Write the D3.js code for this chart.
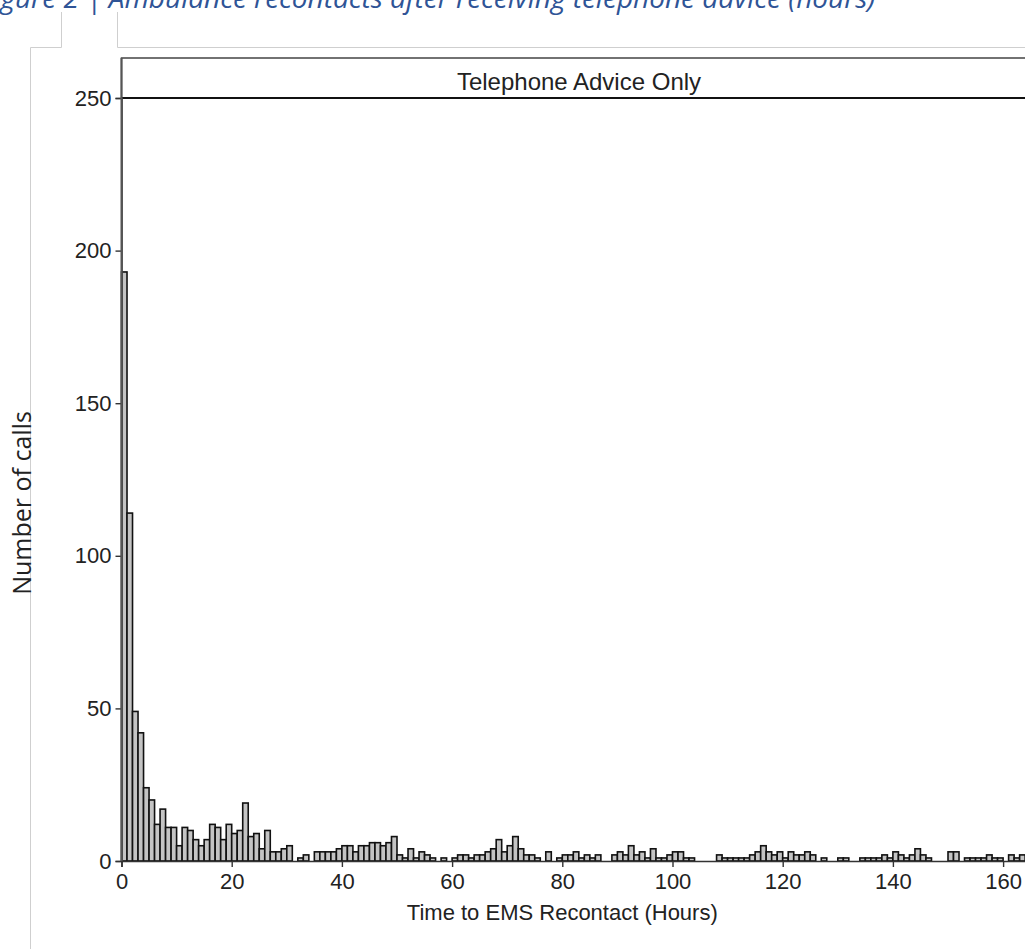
<!DOCTYPE html>
<html>
<head>
<meta charset="utf-8">
<script src="https://cdn.jsdelivr.net/npm/d3@7"></script>
<style>
  body { margin: 0; background: #fff; }
  svg { display: block; }
  .axis text { font-family: "Liberation Sans", Arial, sans-serif; font-size: 22px; fill: #222; }
  .axis path { stroke: #333; stroke-width: 1.6px; }
  .axis line { stroke: #333; stroke-width: 1.4px; }
</style>
</head>
<body>
<svg id="chart" width="1025" height="949"></svg>
<script>
const caption = 'Figure 2 | Ambulance recontacts after receiving telephone advice (hours)';
const facet = 'Telephone Advice Only';
const xTitle = 'Time to EMS Recontact (Hours)';
const yTitle = 'Number of calls';

// one-hour bins starting at 0
const counts = [
  193, 114, 49, 42, 24, 20, 12, 17, 11, 11,
  5, 11, 10, 7, 5, 7, 12, 11, 7, 12,
  9, 10, 19, 8, 9, 4, 10, 3, 3, 4,
  5, 0, 1, 2, 0, 3, 3, 3, 3, 4,
  5, 5, 3, 5, 5, 6, 6, 5, 6, 8,
  2, 1, 4, 1, 3, 2, 1, 0, 1, 0,
  1, 2, 2, 1, 2, 2, 3, 4, 7, 3,
  5, 8, 4, 2, 2, 1, 0, 3, 0, 1,
  2, 2, 3, 1, 2, 1, 2, 0, 0, 2,
  3, 2, 5, 2, 3, 1, 4, 1, 1, 2,
  3, 3, 1, 1, 0, 0, 0, 0, 2, 1,
  1, 1, 1, 1, 2, 3, 5, 3, 2, 3,
  1, 3, 2, 2, 3, 2, 0, 1, 0, 0,
  1, 1, 0, 0, 1, 1, 1, 1, 2, 1,
  3, 2, 1, 2, 4, 2, 1, 0, 0, 0,
  3, 3, 0, 1, 1, 1, 1, 2, 1, 1,
  0, 2, 1, 2, 0, 1, 3, 2
];
const xTicks = [0, 20, 40, 60, 80, 100, 120, 140, 160];
const yTicks = [0, 50, 100, 150, 200, 250];

const bins = counts.map((n, i) => ({ x0: i, x1: i + 1, n }));

const svg = d3.select('#chart');

// leftover document table borders and caption
const doc = svg.append('g').attr('stroke', '#cfcfcf').attr('stroke-width', 1).attr('fill', 'none');
doc.append('path').attr('d', 'M61.5,12V47.5H30.5V949');
doc.append('path').attr('d', 'M117.5,12V47.5H1025');
svg.append('text')
  .attr('x', -20).attr('y', 8)
  .style('font', 'italic 28px "Open Sans", sans-serif')
  .attr('fill', '#2f5496')
  .text(caption);

const x = d3.scaleLinear().domain([0, 170]).range([121.5, 121.5 + 170 * 5.51]);
const y = d3.scaleLinear().domain([0, 250]).range([861, 98]);

// facet strip
svg.append('rect')
  .attr('x', x(0)).attr('y', 58)
  .attr('width', 960).attr('height', y(250) - 58)
  .attr('fill', '#fff').attr('stroke', '#444').attr('stroke-width', 1.5);
svg.append('text')
  .attr('x', 579).attr('y', 90)
  .attr('text-anchor', 'middle')
  .style('font', '24px "Liberation Sans", Arial, sans-serif')
  .attr('fill', '#222')
  .text(facet);

svg.append('g')
  .selectAll('rect')
  .data(bins)
  .enter().append('rect')
  .attr('x', d => x(d.x0))
  .attr('width', d => x(d.x1) - x(d.x0))
  .attr('y', d => y(d.n))
  .attr('height', d => y(0) - y(d.n))
  .attr('fill', '#c4c4c4')
  .attr('stroke', '#111')
  .attr('stroke-width', 1.6);

// top edge of the panel
svg.append('line')
  .attr('x1', x(0)).attr('x2', 1025)
  .attr('y1', y(250)).attr('y2', y(250))
  .attr('stroke', '#111').attr('stroke-width', 2);

svg.append('g')
  .attr('class', 'axis axis--x')
  .attr('transform', `translate(0,${y(0)})`)
  .call(d3.axisBottom(x).tickValues(xTicks).tickSizeOuter(0).tickSize(6).tickPadding(6));

svg.append('g')
  .attr('class', 'axis axis--y')
  .attr('transform', `translate(${x(0)},0)`)
  .call(d3.axisLeft(y).tickValues(yTicks).tickSizeOuter(0).tickSize(6).tickPadding(4));

svg.append('line')
  .attr('x1', x(0)).attr('x2', x(0))
  .attr('y1', 58).attr('y2', y(0))
  .attr('stroke', '#555').attr('stroke-width', 2);

svg.append('text')
  .attr('x', x(80)).attr('y', 920)
  .attr('text-anchor', 'middle')
  .style('font', '22px "Liberation Sans", Arial, sans-serif')
  .attr('fill', '#222')
  .text(xTitle);

svg.append('text')
  .attr('transform', 'translate(31,503) rotate(-90)')
  .attr('text-anchor', 'middle')
  .style('font', '25px "Open Sans", sans-serif')
  .attr('fill', '#222')
  .text(yTitle);
</script>
</body>
</html>
